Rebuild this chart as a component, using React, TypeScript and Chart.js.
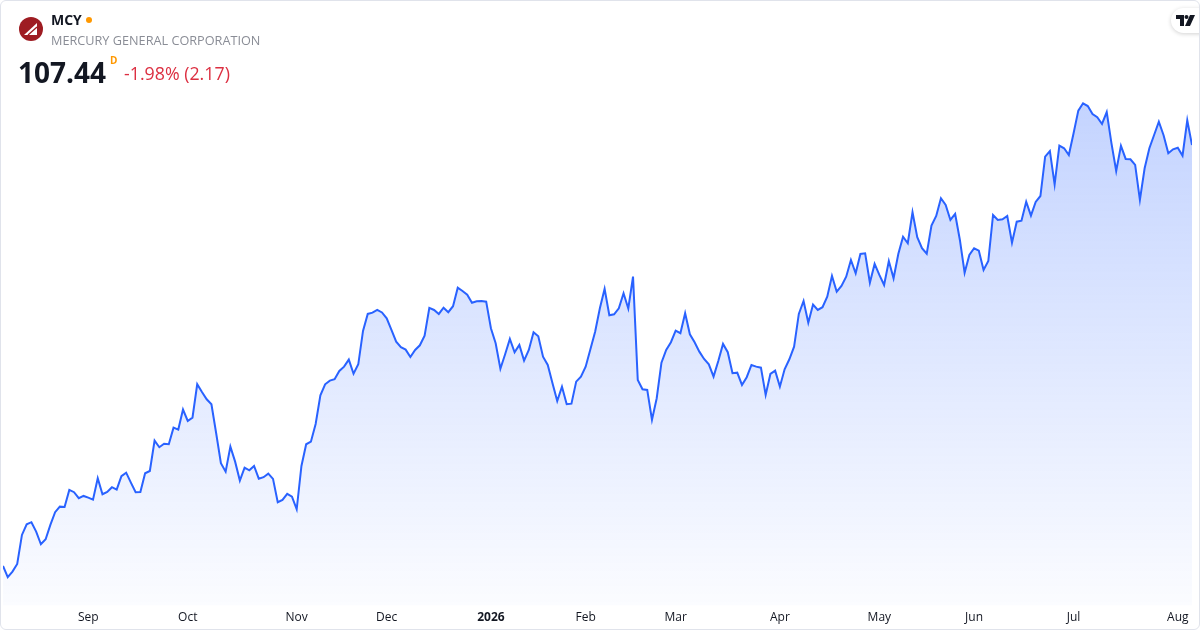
import React, { useEffect, useRef } from 'react';
import Chart from 'chart.js/auto';

// daily closes, MCY, Aug 2025 -> Aug 2026
const prices = [
  70.39, 69.4, 69.89, 70.57, 73.12, 74.06, 74.24, 73.41, 72.3, 72.74,
  74.0, 75.12, 75.61, 75.58, 77.08, 76.88, 76.35, 76.55, 76.4, 76.23,
  78.11, 76.7, 76.9, 77.32, 77.11, 78.29, 78.6, 77.72, 76.88, 76.9,
  78.55, 78.75, 81.42, 80.84, 81.15, 81.1, 82.56, 82.39, 84.15, 83.15,
  83.44, 86.38, 85.7, 85.06, 84.62, 82.07, 79.43, 78.69, 80.89, 79.57,
  77.9, 79.04, 78.81, 79.19, 78.07, 78.2, 78.51, 78.05, 76.0, 76.2,
  76.73, 76.49, 75.38, 79.19, 81.1, 81.33, 82.89, 85.41, 86.38, 86.7,
  86.82, 87.55, 87.93, 88.55, 87.31, 88.14, 91.07, 92.57, 92.68, 92.92,
  92.7, 92.19, 91.16, 90.13, 89.64, 89.43, 88.78, 89.4, 89.81, 90.66,
  93.1, 92.92, 92.57, 93.12, 92.72, 93.25, 94.88, 94.59, 94.27, 93.56,
  93.69, 93.71, 93.65, 91.31, 89.99, 87.75, 89.02, 90.37, 89.2, 89.84,
  88.46, 89.4, 90.96, 90.61, 88.81, 88.08, 86.47, 84.91, 86.17, 84.62,
  84.67, 86.61, 87.05, 87.93, 89.46, 91.01, 93.07, 94.77, 92.45, 92.54,
  93.07, 94.39, 93.05, 95.85, 86.76, 85.94, 85.88, 83.24, 85.15, 88.28,
  89.4, 90.08, 91.1, 90.87, 92.63, 90.78, 90.08, 89.25, 88.61, 88.14,
  87.05, 88.43, 89.93, 89.2, 87.35, 87.4, 86.32, 87.0, 88.08, 87.93,
  87.84, 85.44, 87.29, 87.58, 86.17, 87.7, 88.58, 89.69, 92.57, 93.71,
  91.8, 93.39, 92.92, 93.16, 94.09, 95.91, 94.53, 95.03, 95.85, 97.32,
  96.15, 97.85, 97.91, 95.32, 96.97, 96.0, 95.12, 97.23, 95.71, 97.85,
  99.37, 98.79, 101.52, 99.32, 98.35, 97.87, 100.34, 101.19, 102.75, 102.16,
  100.84, 101.37, 99.08, 96.2, 97.76, 98.35, 98.14, 96.44, 97.23, 101.28,
  100.84, 100.9, 101.19, 98.84, 100.69, 100.78, 102.45, 101.22, 102.43, 102.95,
  106.41, 106.91, 103.98, 107.38, 107.15, 106.56, 108.47, 110.46, 111.11, 110.87,
  110.17, 109.88, 109.29, 110.34, 107.59, 105.15, 107.36, 106.21, 106.18, 105.68,
  102.6, 105.39, 107.15, 108.32, 109.49, 108.3, 106.71, 107.06, 107.2, 106.5,
  109.61, 107.44,
];

// index of the first session of each month, and its axis label
const monthTickIndex = [18, 39, 62, 81, 103, 123, 142, 164, 185, 205, 226, 248];
const monthLabels = ['Sep', 'Oct', 'Nov', 'Dec', '2026', 'Feb', 'Mar', 'Apr', 'May', 'Jun', 'Jul', 'Aug'];

const FONT = '"Open Sans", "Noto Sans", Arial, sans-serif';
const LINE = '#2962FF';

function labelFor(value: number) {
  const i = monthTickIndex.indexOf(value);
  return i >= 0 ? monthLabels[i] : '';
}

function PriceChart() {
  const canvasRef = useRef<HTMLCanvasElement>(null);
  const chartRef = useRef<Chart | null>(null);

  useEffect(() => {
    if (!canvasRef.current) return;
    const ctx = canvasRef.current.getContext('2d');
    if (!ctx) return;

    if (chartRef.current) chartRef.current.destroy();

    chartRef.current = new Chart(ctx, {
      type: 'line',
      data: {
        datasets: [
          {
            data: prices.map((p, i) => ({ x: i, y: p })),
            borderColor: LINE,
            borderWidth: 2,
            tension: 0,
            pointRadius: 0,
            fill: 'start',
            backgroundColor: (c: any) => {
              const area = c.chart.chartArea;
              if (!area) return 'rgba(41, 98, 255, 0.2)';
              const g = c.chart.ctx.createLinearGradient(0, area.top, 0, area.bottom);
              g.addColorStop(0, 'rgba(41, 98, 255, 0.33)');
              g.addColorStop(1, 'rgba(41, 98, 255, 0.02)');
              return g;
            },
          },
        ],
      },
      options: {
        animation: false,
        responsive: true,
        maintainAspectRatio: false,
        layout: { padding: { left: 3, right: 8, top: 0, bottom: 0 } },
        plugins: {
          legend: { display: false },
          tooltip: { enabled: false },
        },
        scales: {
          x: {
            type: 'linear',
            min: 0,
            max: prices.length - 1,
            grid: { display: false, drawTicks: false },
            border: { display: false },
            afterBuildTicks: (axis: any) => {
              axis.ticks = monthTickIndex.map((v) => ({ value: v }));
            },
            ticks: {
              autoSkip: false,
              maxRotation: 0,
              padding: 5,
              color: '#131722',
              callback: (value: any) => labelFor(Number(value)),
              font: (c: any) => ({
                family: FONT,
                size: 12,
                weight: c.tick && labelFor(c.tick.value) === '2026' ? 'bold' : 'normal',
              }),
            },
          },
          y: {
            display: false,
            min: 66.9,
            max: 120.2,
          },
        },
      },
    });

    return () => {
      if (chartRef.current) {
        chartRef.current.destroy();
        chartRef.current = null;
      }
    };
  }, []);

  return (
    <div style={{ position: 'absolute', left: 0, top: 0, width: 1200, height: 630 }}>
      <canvas ref={canvasRef}></canvas>
    </div>
  );
}

export default function App() {
  return (
    <div
      style={{
        position: 'absolute',
        left: 0,
        top: 0,
        width: 1200,
        height: 630,
        background: '#fff',
        overflow: 'hidden',
        fontFamily: FONT,
      }}
    >
      <PriceChart />

      {/* header */}
      <svg width="26" height="26" viewBox="0 0 26 26" style={{ position: 'absolute', left: 18, top: 16 }}>
        <circle cx="13" cy="13" r="12" fill="#9e1c22" />
        <polygon points="6,19 19,7 19,19" fill="#fff" />
        <line x1="10" y1="19" x2="19" y2="11" stroke="#9e1c22" strokeWidth="1.3" />
      </svg>
      <div style={{ position: 'absolute', left: 51, top: 11, fontSize: 14, fontWeight: 700, color: '#131722', lineHeight: '18px' }}>
        MCY
      </div>
      <div style={{ position: 'absolute', left: 86, top: 17, width: 6, height: 6, borderRadius: 3, background: '#ff9800' }} />
      <div style={{ position: 'absolute', left: 51, top: 32, fontSize: 12.7, color: '#8a8d96', lineHeight: '17px' }}>
        MERCURY GENERAL CORPORATION
      </div>
      <div style={{ position: 'absolute', left: 18, top: 54, fontSize: 28, fontWeight: 700, color: '#131722', lineHeight: '36px' }}>
        107.44
      </div>
      <div style={{ position: 'absolute', left: 110, top: 54, fontSize: 10, fontWeight: 700, color: '#ff9800', lineHeight: '12px' }}>
        D
      </div>
      <div style={{ position: 'absolute', left: 124, top: 62, fontSize: 17.8, color: '#dc2f41', lineHeight: '23px' }}>
        -1.98% (2.17)
      </div>

      {/* watermark badge */}
      <div
        style={{
          position: 'absolute',
          left: 1171,
          top: 8,
          width: 44,
          height: 25,
          borderRadius: 12.5,
          background: '#fff',
          boxShadow: '0 1px 4px rgba(0,0,0,0.18)',
        }}
      >
        <svg width="20" height="12" viewBox="0 0 20 12" style={{ position: 'absolute', left: 5, top: 7 }}>
          <path d="M0 0 H8 V11 H4 V4 H0 Z" fill="#131722" />
          <circle cx="10.5" cy="2" r="2" fill="#131722" />
          <path d="M14 0 H19 L14 11 H9 Z" fill="#131722" />
        </svg>
      </div>

      {/* card border */}
      <div
        style={{
          position: 'absolute',
          left: 0,
          top: 0,
          width: 1200,
          height: 630,
          boxSizing: 'border-box',
          border: '1px solid #e0e3eb',
          borderRadius: 6,
          pointerEvents: 'none',
        }}
      />
    </div>
  );
}
